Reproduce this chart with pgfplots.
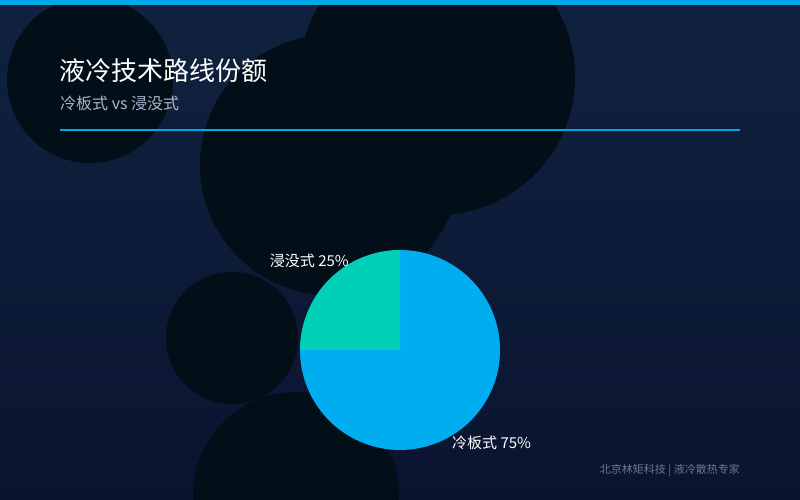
\documentclass[border=0pt]{standalone}
\usepackage{fontspec}
\setmainfont{Noto Sans CJK SC}
\usepackage{pgfplots}
\pgfplotsset{compat=1.18}

\definecolor{bgtop}{HTML}{10223F}
\definecolor{bgbot}{HTML}{0A1430}
\definecolor{blob}{HTML}{020F18}
\definecolor{accent}{HTML}{00A8E8}
\definecolor{coldplate}{HTML}{00AEEF}
\definecolor{immersion}{HTML}{00D1B6}
\definecolor{subtext}{HTML}{A8B8CC}
\definecolor{foot}{HTML}{6A7890}

% shares in percent
\def\coldshare{75}
\def\immshare{25}

\begin{document}
\begin{tikzpicture}
\begin{axis}[
  width=800pt, height=500pt, scale only axis,
  xmin=0, xmax=800, ymin=0, ymax=500,
  hide axis,
]
% background
\fill[top color=bgtop, bottom color=bgbot] (axis cs:0,0) rectangle (axis cs:800,500);
% decorative circles
\fill[blob] (axis cs:90,420) circle[radius=83];
\fill[blob] (axis cs:437,423) circle[radius=138];
\fill[blob] (axis cs:330,335) circle[radius=130];
\fill[blob] (axis cs:232,162) circle[radius=66];
\fill[blob] (axis cs:296,5) circle[radius=103];
% top bar
\fill[accent] (axis cs:0,495) rectangle (axis cs:800,500);
% titles
\node[anchor=west, inner sep=0, text=white, font=\fontsize{26}{30}\selectfont] at (axis cs:59,429) {液冷技术路线份额};
\node[anchor=west, inner sep=0, text=subtext, font=\fontsize{16}{19}\selectfont] at (axis cs:60,397) {冷板式 vs 浸没式};
\draw[accent, line width=2pt] (axis cs:60,369.5) -- (axis cs:740,369.5);
% pie
\fill[coldplate] (axis cs:400,150) -- ++(90:100) arc[start angle=90, end angle={90-3.6*\coldshare}, radius=100] -- cycle;
\fill[immersion] (axis cs:400,150) -- ++({90-3.6*\coldshare}:100) arc[start angle={90-3.6*\coldshare}, end angle={90-3.6*(\coldshare+\immshare)}, radius=100] -- cycle;
\node[anchor=east, inner sep=0, text=white, font=\fontsize{15}{18}\selectfont] at (axis cs:349,239.5) {浸没式 25\%};
\node[anchor=west, inner sep=0, text=white, font=\fontsize{15}{18}\selectfont] at (axis cs:452,57.5) {冷板式 75\%};
% footer
\node[anchor=east, inner sep=0, text=foot, font=\fontsize{11}{13}\selectfont] at (axis cs:740,30) {北京林矩科技 | 液冷散热专家};
\coordinate (SW) at (axis cs:0,0);
\coordinate (NE) at (axis cs:800,500);
\end{axis}
\pgfresetboundingbox
\path (SW) rectangle (NE);
\end{tikzpicture}
\end{document}
